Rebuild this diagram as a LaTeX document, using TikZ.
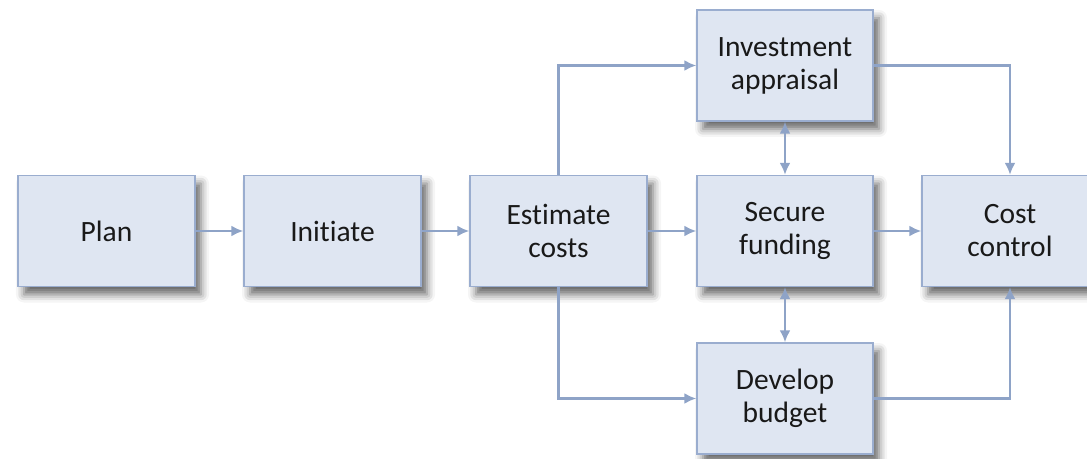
\documentclass[tikz,border=0pt]{standalone}
\usepackage{fontspec}
\setmainfont{Carlito}[Ligatures=NoCommon]
\usetikzlibrary{arrows.meta,shadows.blur}
\definecolor{boxfill}{HTML}{DFE6F2}
\definecolor{boxline}{HTML}{9AADCF}
\definecolor{conn}{HTML}{8EA3C7}
\tikzset{
  stagebox/.style={draw=boxline, line width=1.3bp, fill=boxfill, rectangle,
    minimum width=176bp, minimum height=111bp, align=center, inner sep=0pt,
    font=\fontsize{29.5bp}{33bp}\selectfont, text=black!90,
    blur shadow={shadow xshift=6bp, shadow yshift=-8bp, shadow blur radius=8bp, shadow opacity=60}},
  conn/.style={draw=conn, line width=2.4bp, -{Latex[length=12bp,width=11bp]}},
  twoway/.style={draw=conn, line width=2.4bp, {Latex[length=12bp,width=11bp]}-{Latex[length=12bp,width=11bp]}}
}
\begin{document}
\begin{tikzpicture}[x=1bp,y=-1bp]
\useasboundingbox (0,0) rectangle (1087,459);
\node[stagebox, minimum width=177bp] (plan) at (106.5,231) {Plan};
\node[stagebox, minimum width=177bp] (init) at (332.5,231) {Initiate};
\node[stagebox, minimum width=177bp] (est) at (558.5,231) {Estimate\\costs};
\node[stagebox] (sf) at (785,231) {Secure\\funding};
\node[stagebox] (cc) at (1010,231) {Cost\\control};
\node[stagebox] (ia) at (785,65.5) {Investment\\appraisal};
\node[stagebox] (db) at (785,398.5) {Develop\\budget};
\draw[conn] (plan.east) -- (init.west);
\draw[conn] (init.east) -- (est.west);
\draw[conn] (est.east) -- (sf.west);
\draw[conn] (sf.east) -- (cc.west);
\draw[conn] (est.north) |- (ia.west);
\draw[conn] (est.south) |- (db.west);
\draw[conn] (ia.east) -| (cc.north);
\draw[conn] (db.east) -| (cc.south);
\draw[twoway] (ia.south) -- (sf.north);
\draw[twoway] (sf.south) -- (db.north);
\end{tikzpicture}
\end{document}
